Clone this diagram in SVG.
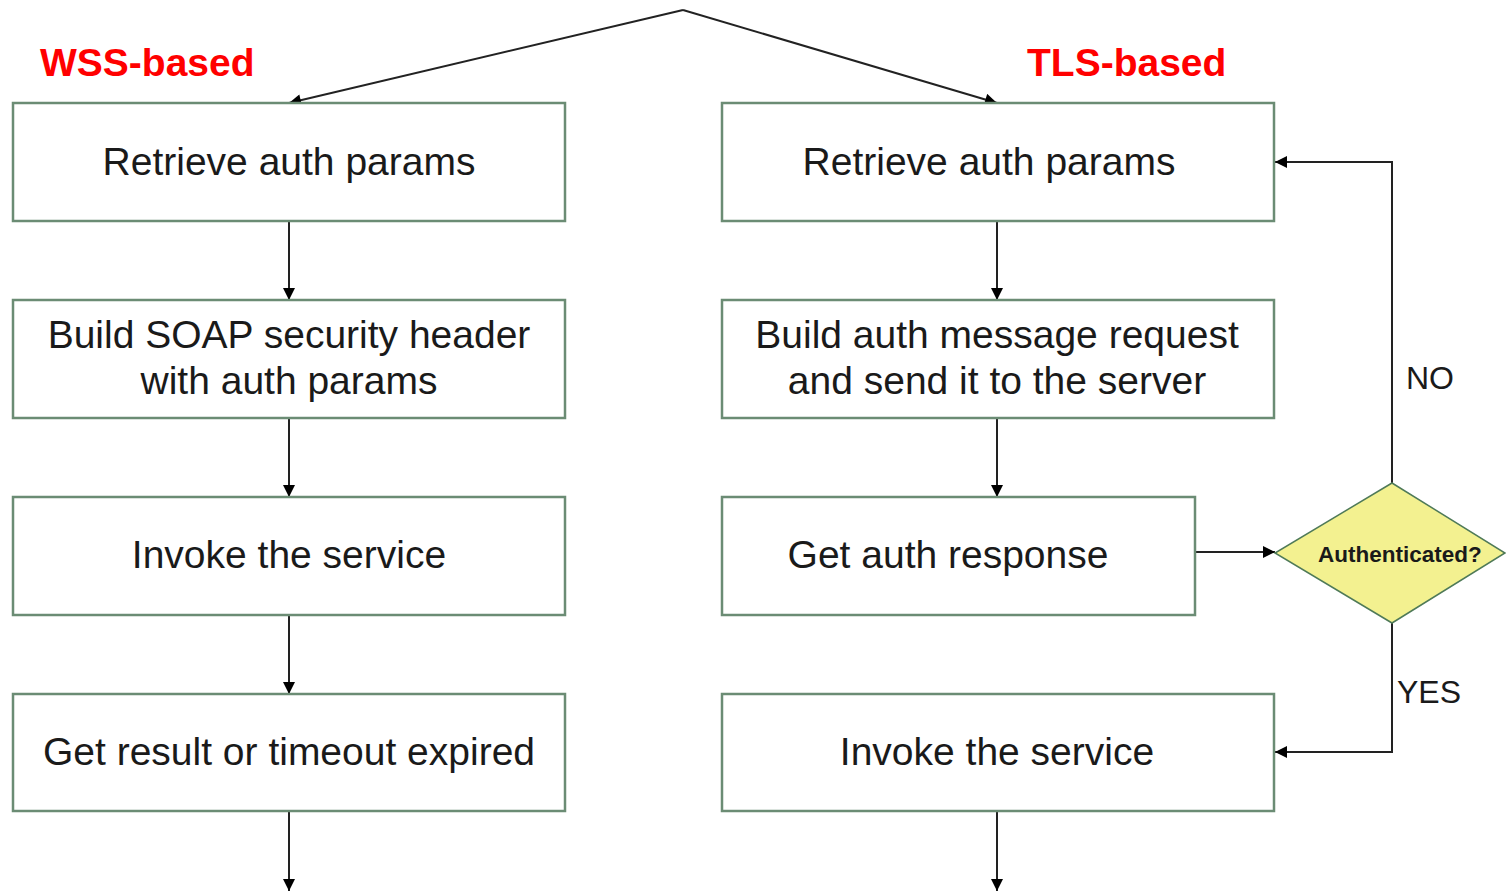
<svg xmlns="http://www.w3.org/2000/svg" width="1506" height="892" viewBox="0 0 1506 892">
  <defs>
    <marker id="arrow" viewBox="0 0 10 10" refX="10" refY="5" markerWidth="13" markerHeight="12" markerUnits="userSpaceOnUse" orient="auto">
      <path d="M0,0 L10,5 L0,10 z" fill="#000"/>
    </marker>
  </defs>
  <style>
    .box { fill: #fff; stroke: #6b8c74; stroke-width: 2.5; }
    .label { font-family: "Liberation Sans", Arial, sans-serif; font-size: 39px; fill: #1a1a1a; text-anchor: middle; }
    .title { font-family: "Liberation Sans", Arial, sans-serif; font-size: 39px; font-weight: bold; fill: #ff0000; }
    .tag { font-family: "Liberation Sans", Arial, sans-serif; font-size: 32px; fill: #1a1a1a; }
    .edge { fill: none; stroke: #222; stroke-width: 2; marker-end: url(#arrow); }
  </style>
  <rect width="1506" height="892" fill="#fff"/>

  <text class="title" x="40" y="76">WSS-based</text>
  <text class="title" x="1027" y="76">TLS-based</text>

  <g id="connectors">
    <path class="edge" d="M683,10 L289,103"/>
    <path class="edge" d="M683,10 L997,103"/>
    <path class="edge" d="M289,221 L289,300"/>
    <path class="edge" d="M289,418 L289,497"/>
    <path class="edge" d="M289,615 L289,694"/>
    <path class="edge" d="M289,811 L289,891"/>
    <path class="edge" d="M997,221 L997,300"/>
    <path class="edge" d="M997,418 L997,497"/>
    <path class="edge" d="M1195,552 L1275,552"/>
    <path class="edge" d="M1392,483 L1392,162 L1275,162"/>
    <path class="edge" d="M1392,623 L1392,752 L1275,752"/>
    <path class="edge" d="M997,811 L997,891"/>
  </g>
  <text class="tag" x="1406" y="389">NO</text>
  <text class="tag" x="1397" y="703">YES</text>

  <g id="wss-retrieve">
    <rect class="box" x="13" y="103" width="552" height="118"/>
    <text class="label" x="289" y="175">Retrieve auth params</text>
  </g>
  <g id="wss-build">
    <rect class="box" x="13" y="300" width="552" height="118"/>
    <text class="label" x="289" y="348">Build SOAP security header</text>
    <text class="label" x="289" y="394">with auth params</text>
  </g>
  <g id="wss-invoke">
    <rect class="box" x="13" y="497" width="552" height="118"/>
    <text class="label" x="289" y="568">Invoke the service</text>
  </g>
  <g id="wss-result">
    <rect class="box" x="13" y="694" width="552" height="117"/>
    <text class="label" x="289" y="765">Get result or timeout expired</text>
  </g>

  <g id="tls-retrieve">
    <rect class="box" x="722" y="103" width="552" height="118"/>
    <text class="label" x="989" y="175">Retrieve auth params</text>
  </g>
  <g id="tls-build">
    <rect class="box" x="722" y="300" width="552" height="118"/>
    <text class="label" x="997" y="348">Build auth message request</text>
    <text class="label" x="997" y="394">and send it to the server</text>
  </g>
  <g id="tls-response">
    <rect class="box" x="722" y="497" width="473" height="118"/>
    <text class="label" x="948" y="568">Get auth response</text>
  </g>
  <g id="tls-authenticated">
    <polygon points="1392,483 1505,553 1392,623 1275,553" fill="#f3f190" stroke="#4f7a58" stroke-width="1.5"/>
    <text x="1400" y="562" font-family="Liberation Sans, Arial, sans-serif" font-size="22.5" font-weight="bold" fill="#1a1a1a" text-anchor="middle">Authenticated?</text>
  </g>
  <g id="tls-invoke">
    <rect class="box" x="722" y="694" width="552" height="117"/>
    <text class="label" x="997" y="765">Invoke the service</text>
  </g>
</svg>
